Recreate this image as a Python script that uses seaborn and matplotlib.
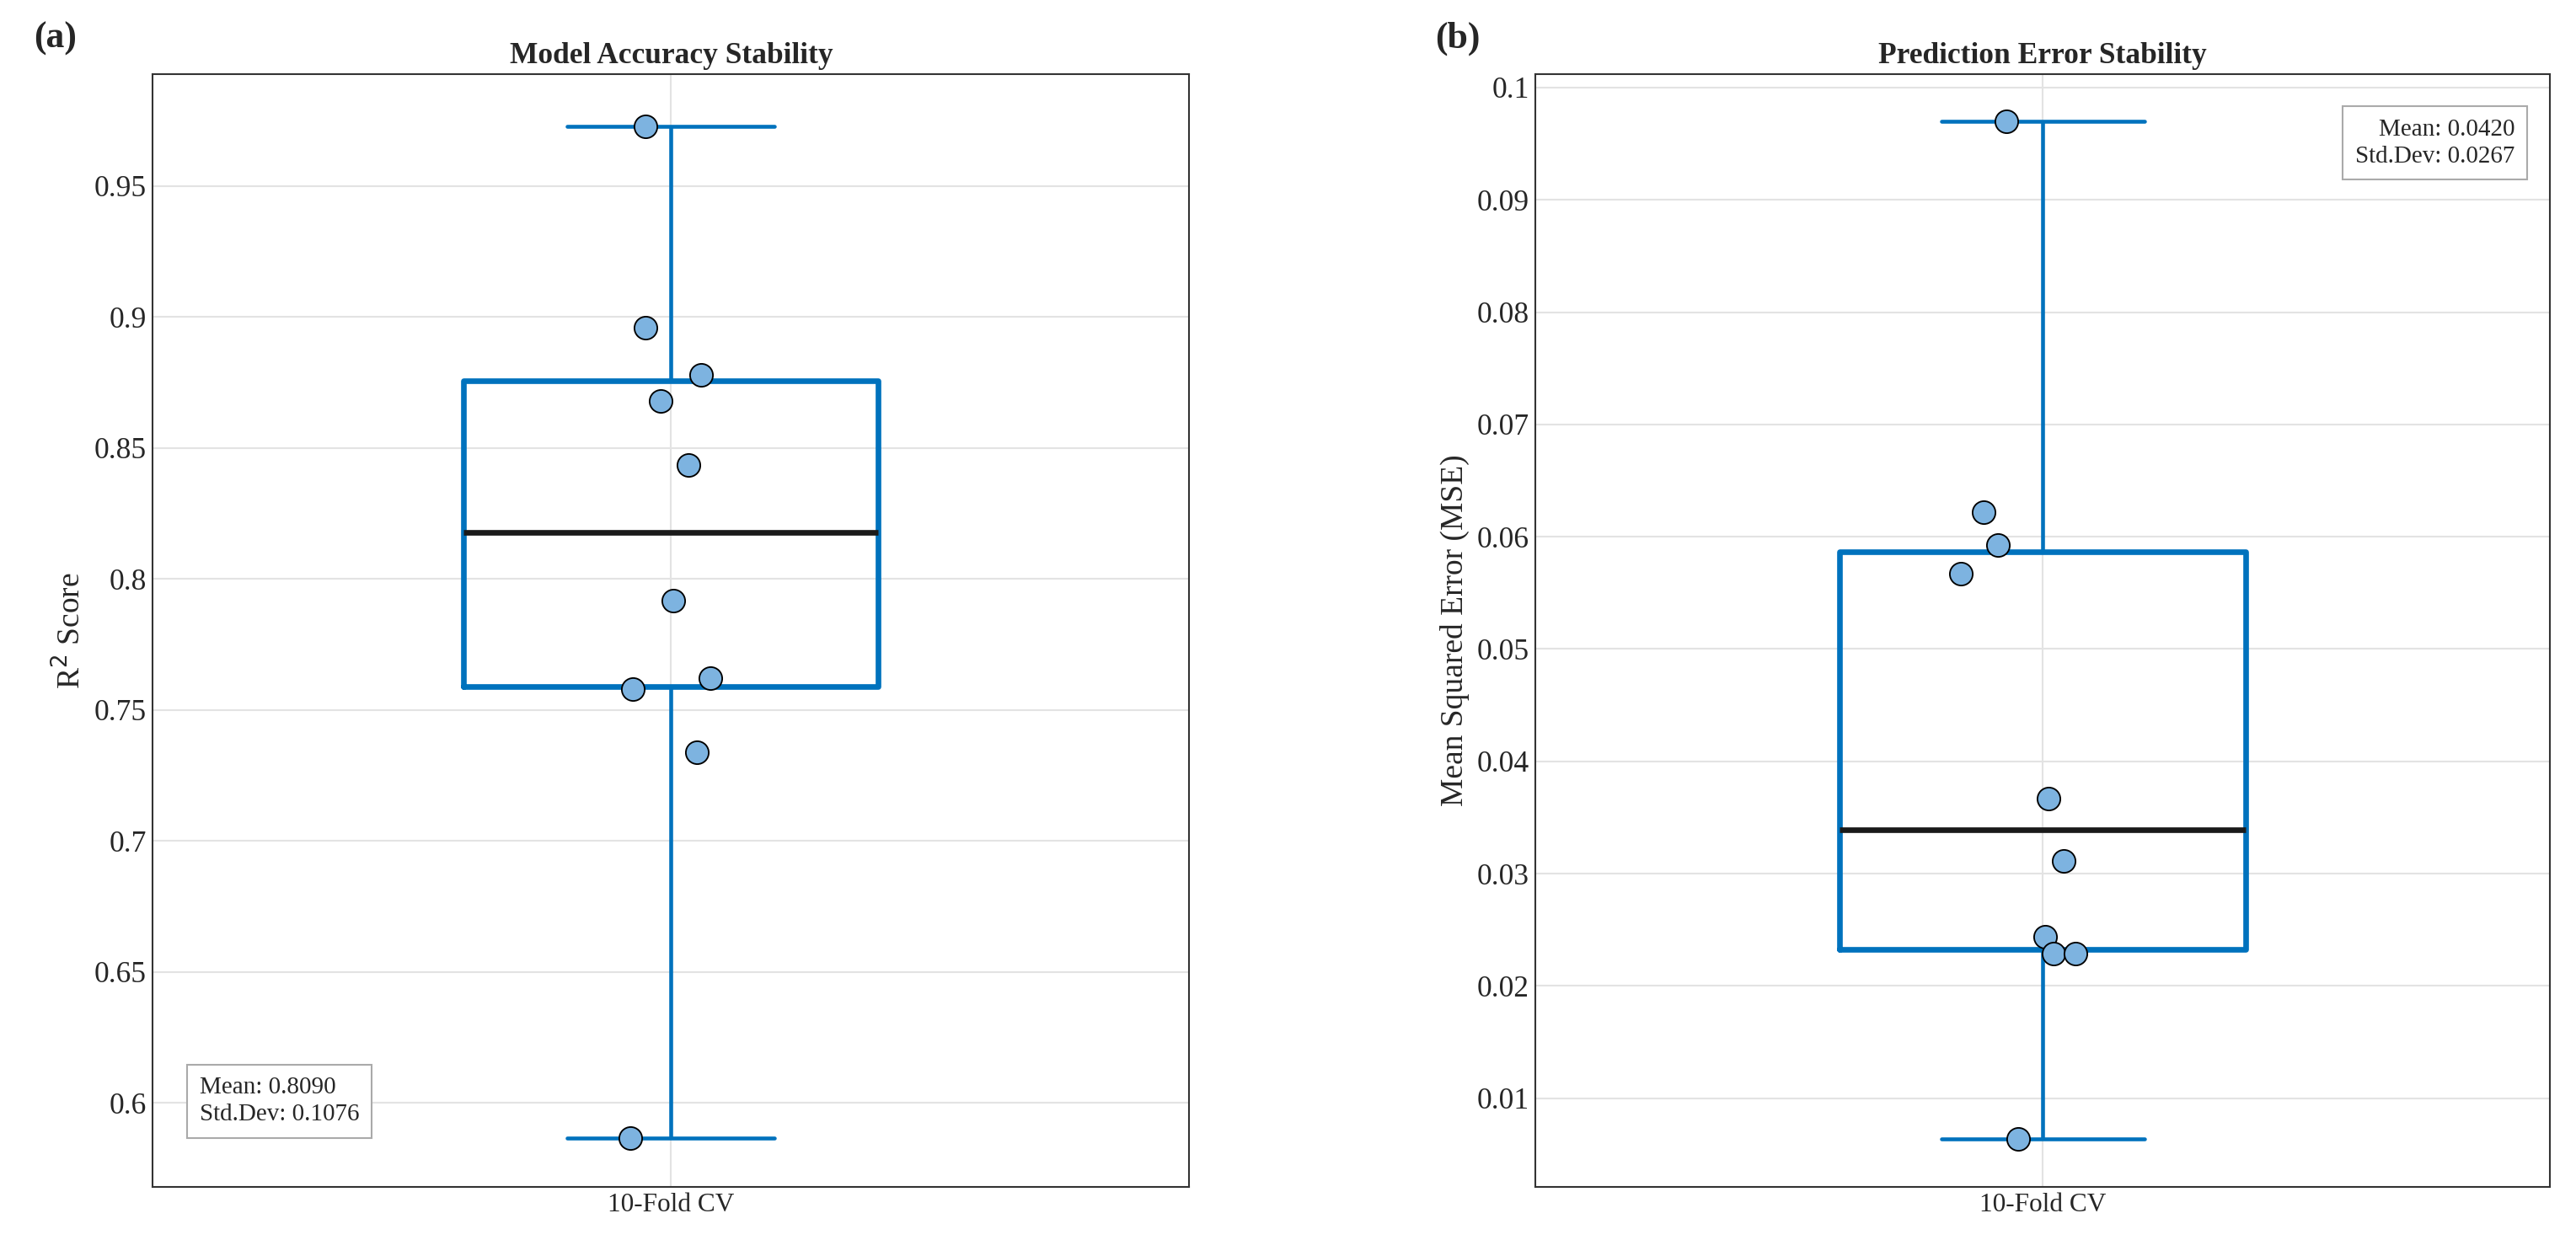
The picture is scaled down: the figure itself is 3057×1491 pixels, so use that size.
import numpy as np
import pandas as pd
import matplotlib
matplotlib.use("Agg")
import matplotlib.pyplot as plt
import seaborn as sns

# fold results
r2_scores = [0.9728, 0.896, 0.878, 0.868, 0.8436, 0.7916, 0.762, 0.7578, 0.734, 0.5865]
r2_jitter = [-0.025, -0.025, 0.029, -0.010, 0.017, 0.002, 0.038, -0.037, 0.025, -0.039]
mse_scores = [0.0970, 0.0622, 0.0593, 0.0567, 0.0367, 0.0311, 0.0244, 0.0229, 0.0229, 0.0064]
mse_jitter = [-0.036, -0.058, -0.044, -0.081, 0.006, 0.021, 0.002, 0.011, 0.032, -0.024]
fold_label = '10-Fold CV'

sns.set_style('white')
plt.rcParams['font.family'] = ['Liberation Serif', 'DejaVu Serif']

BLUE = '#0072BD'
PT = '#7DB3E0'

fig = plt.figure(figsize=(20.38, 9.94), dpi=150)
ax1 = fig.add_axes([0.0593, 0.055, 0.4024, 0.886])
ax2 = fig.add_axes([0.596, 0.055, 0.394, 0.886])


def panel(ax, vals, jit, title, ylabel, ylim, yticks, ytl, stats_pos):
    sns.boxplot(y=vals, ax=ax, width=0.4, whis=(0, 100), showfliers=False,
                fill=False, linecolor=BLUE,
                boxprops=dict(linewidth=3.2, color=BLUE),
                whiskerprops=dict(linewidth=2.2, color=BLUE),
                capprops=dict(linewidth=2.2, color=BLUE),
                medianprops=dict(linewidth=3.2, color='#1a1a1a'))
    df = pd.DataFrame({'x': jit, 'y': vals})
    sns.scatterplot(data=df, x='x', y='y', ax=ax, s=170, color=PT,
                    edgecolor='black', linewidth=0.9, zorder=5)
    ax.set_xlim(-0.5, 0.5)
    ax.set_ylim(*ylim)
    ax.set_xticks([0])
    ax.set_xticklabels([fold_label])
    ax.set_yticks(yticks)
    ax.set_yticklabels(ytl)
    ax.set_xlabel('')
    ax.set_ylabel(ylabel, fontsize=18)
    ax.set_title(title, fontsize=17, fontweight='bold', pad=6)
    ax.tick_params(axis='y', labelsize=17, length=5, direction='in')
    ax.tick_params(axis='x', labelsize=15, length=5, direction='in')
    ax.grid(True, color='#e3e3e3', linewidth=1)
    ax.set_axisbelow(True)
    for s in ax.spines.values():
        s.set_visible(True)
        s.set_color('#333333')
        s.set_linewidth(1)
    m, sd = np.mean(vals), np.std(vals, ddof=1)
    x, y, ha, va = stats_pos
    ax.text(x, y, f'Mean: {m:.4f}\nStd.Dev: {sd:.4f}', transform=ax.transAxes,
            ha=ha, va=va, fontsize=14, linespacing=1.3,
            bbox=dict(boxstyle='square,pad=0.5', facecolor='white', edgecolor='#aaaaaa', linewidth=1))


panel(ax1, r2_scores, r2_jitter, 'Model Accuracy Stability', 'R$^2$ Score',
      (0.568, 0.9926), [0.6, 0.65, 0.7, 0.75, 0.8, 0.85, 0.9, 0.95],
      ['0.6', '0.65', '0.7', '0.75', '0.8', '0.85', '0.9', '0.95'],
      (0.045, 0.055, 'left', 'bottom'))
panel(ax2, mse_scores, mse_jitter, 'Prediction Error Stability', 'Mean Squared Error (MSE)',
      (0.0021, 0.1012), [0.01 * i for i in range(1, 11)],
      ['0.01', '0.02', '0.03', '0.04', '0.05', '0.06', '0.07', '0.08', '0.09', '0.1'],
      (0.965, 0.96, 'right', 'top'))

fig.text(0.013, 0.962, '(a)', fontsize=21, fontweight='bold')
fig.text(0.557, 0.962, '(b)', fontsize=21, fontweight='bold')

fig.savefig('out.png', dpi=150, facecolor='white')
